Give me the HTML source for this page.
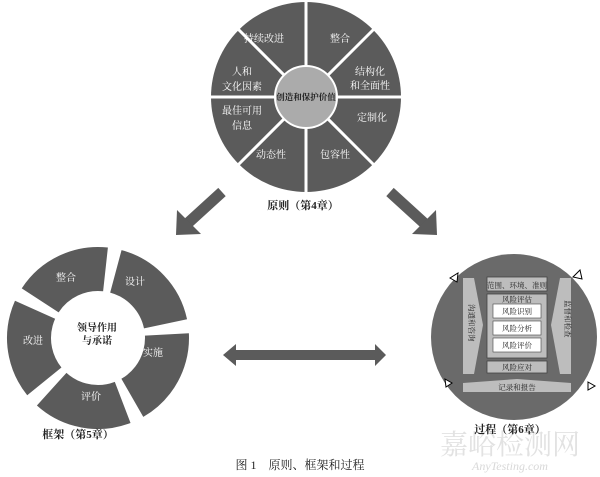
<!DOCTYPE html>
<html><head><meta charset="utf-8"><style>
body{margin:0;background:#fff}
svg{display:block}
text{font-family:"Liberation Serif","Noto Serif CJK SC",serif;}
</style></head><body>
<svg width="600" height="477" viewBox="0 0 600 477" xmlns="http://www.w3.org/2000/svg">
<!-- Top circle -->
<circle cx="306" cy="97" r="95" fill="#5b5b5b"/>
<g stroke="#fff" stroke-width="3">
<line x1="306" y1="0" x2="306" y2="194"/>
<line x1="209" y1="97" x2="403" y2="97"/>
<line x1="238" y1="29" x2="374" y2="165"/>
<line x1="374" y1="29" x2="238" y2="165"/>
</g>
<circle cx="306" cy="97" r="31" fill="#ababab" stroke="#fff" stroke-width="2"/>
<g fill="#fff" font-size="10" text-anchor="middle">
<text x="264" y="42">持续改进</text>
<text x="340" y="42">整合</text>
<text x="242" y="75">人和</text>
<text x="242" y="90">文化因素</text>
<text x="370" y="75">结构化</text>
<text x="370" y="89">和全面性</text>
<text x="242" y="114">最佳可用</text>
<text x="242" y="129">信息</text>
<text x="372" y="121">定制化</text>
<text x="271" y="158">动态性</text>
<text x="335" y="158">包容性</text>
</g>
<text x="306" y="100" font-size="8.5" text-anchor="middle" fill="#222" font-weight="bold">创造和保护价值</text>
<text x="303" y="209" font-size="11" text-anchor="middle" fill="#222" font-weight="bold">原则（第4章）</text>
<!-- diagonal arrows -->
<line x1="222" y1="192" x2="188" y2="223" stroke="#5b5b5b" stroke-width="11"/>
<polygon points="176,235 177,210 201,234" fill="#5b5b5b"/>
<line x1="390" y1="192" x2="424" y2="223" stroke="#5b5b5b" stroke-width="11"/>
<polygon points="437,235 436,210 412,234" fill="#5b5b5b"/>
<!-- double arrow -->
<polygon points="223,355 236,344 236,350 375,350 375,344 386,355 375,366 375,360 236,360 236,366" fill="#5b5b5b"/>
<!-- Left framework -->
<circle cx="98" cy="338" r="69" fill="none" stroke="#5b5b5b" stroke-width="44" stroke-dasharray="76 10.7" transform="rotate(-75 98 338)"/>
<g fill="#fff" font-size="10" text-anchor="middle">
<text x="66" y="281">整合</text>
<text x="135" y="285">设计</text>
<text x="153" y="356">实施</text>
<text x="91" y="400">评价</text>
<text x="33" y="344">改进</text>
</g>
<g fill="#222" font-size="10" text-anchor="middle" font-weight="bold">
<text x="97" y="331">领导作用</text>
<text x="97" y="344">与承诺</text>
</g>
<text x="78" y="438" font-size="11" text-anchor="middle" fill="#222" font-weight="bold">框架（第5章）</text>
<!-- Right process -->
<circle cx="514" cy="337" r="83" fill="#6a6a6a"/>
<polygon points="463,278 474,278 483,325 474,374 463,374" fill="#bdbdbd"/>
<polygon points="571,278 560,278 551,325 560,374 571,374" fill="#bdbdbd"/>
<rect x="487" y="277" width="60" height="14" fill="#bdbdbd" stroke="#444" stroke-width="0.8"/>
<rect x="487" y="294" width="60" height="64" fill="#bdbdbd" stroke="#444" stroke-width="0.8"/>
<rect x="493" y="304" width="48" height="14" fill="#fff" stroke="#444" stroke-width="0.6"/>
<rect x="493" y="321" width="48" height="14" fill="#fff" stroke="#444" stroke-width="0.6"/>
<rect x="493" y="338" width="48" height="14" fill="#fff" stroke="#444" stroke-width="0.6"/>
<rect x="487" y="361" width="60" height="12" fill="#bdbdbd" stroke="#444" stroke-width="0.8"/>
<polygon points="463,383 517,379 571,383 571,392 463,392" fill="#bdbdbd"/>
<g font-size="7.5" text-anchor="middle" fill="#222">
<text x="517" y="288">范围、环境、准则</text>
<text x="517" y="302">风险评估</text>
<text x="517" y="314">风险识别</text>
<text x="517" y="331">风险分析</text>
<text x="517" y="348">风险评价</text>
<text x="517" y="370">风险应对</text>
<text x="517" y="390">记录和报告</text>
</g>
<text font-size="7.5" fill="#222" transform="translate(469,304) rotate(90)">沟通和咨询</text>
<text font-size="7.5" fill="#222" transform="translate(565,300) rotate(90)">监督和检查</text>
<g fill="#fff" stroke="#000" stroke-width="1">
<polygon points="450,278 458,273 457,282"/>
<polygon points="580,270 573,277 582,279"/>
<polygon points="445,379 452,383 446,387"/>
<polygon points="588,382 595,386 588,390"/>
</g>
<!-- watermark -->
<text x="510" y="454" font-size="28" text-anchor="middle" fill="#e2e2e2" font-family="Liberation Sans,Noto Sans CJK SC,sans-serif">嘉峪检测网</text>
<text x="510" y="433" font-size="11" text-anchor="middle" fill="#222" font-weight="bold">过程（第6章）</text>
<text x="510" y="470" font-size="12" text-anchor="middle" fill="#d8d8d8" font-style="italic" font-family="Liberation Sans,sans-serif">AnyTesting.com</text>
<!-- caption -->
<text x="300" y="469" font-size="12" text-anchor="middle" fill="#222">图 1　原则、框架和过程</text>
</svg>
</body></html>
